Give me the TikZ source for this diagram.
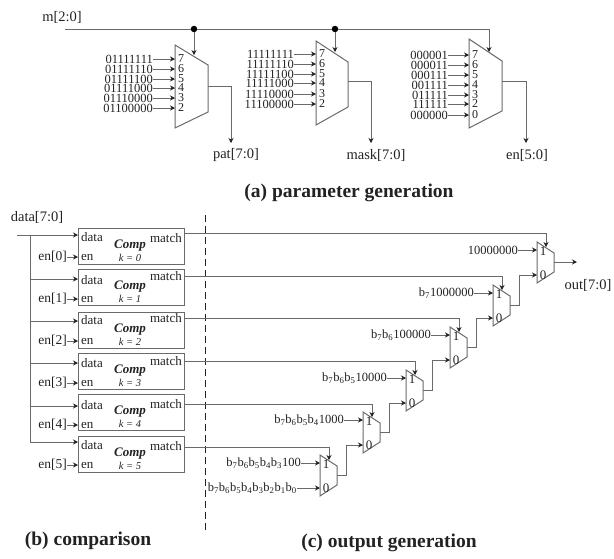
\documentclass[tikz,border=0pt]{standalone}
\usepackage{fontspec}
\setmainfont{Liberation Serif}
\usetikzlibrary{positioning,arrows.meta,calc}
\definecolor{ink1}{HTML}{222222}
\definecolor{ink2}{HTML}{6A6A6A}
\newcommand{\bb}[1]{b\textsubscript{#1}}
\newcommand{\fs}[1]{\fontsize{#1}{#1}\selectfont}
\begin{document}
\begin{tikzpicture}[
  x=1pt, y=-1pt,
  >={Stealth[length=5pt,width=5pt,color=ink1]},
  wire/.style={draw=ink2, line width=0.8pt},
  ar/.style={->, draw=ink2, line width=0.8pt},
  muxbody/.style={draw=ink2, line width=1pt},
  compbox/.style={draw=ink2, line width=1.1pt, minimum width=106pt, minimum height=36pt,
                  inner sep=0pt, anchor=north west},
  bits/.style={font=\fs{12.5}, text=ink1, inner sep=0pt},
  lab/.style={font=\fs{14.5}, text=ink1, inner sep=0pt},
  tag/.style={font=\fs{13}, text=ink1, inner sep=0pt},
  digit/.style={font=\fs{12}, text=ink1, inner sep=0pt},
  compname/.style={font=\fs{13}\bfseries\itshape, text=ink1, inner sep=0pt},
  kname/.style={font=\fs{10.5}\itshape, text=ink1, inner sep=0pt},
  capt/.style={font=\fs{19.5}\bfseries, text=ink1, inner sep=0pt},
  junction/.style={circle, fill=black, inner sep=0pt, minimum size=6.5pt}
]
\useasboundingbox (0,0) rectangle (614,558);

% ===== (a) parameter generation =====
\node[lab] (mlab) at (62,17) {m[2:0]};
\coordinate (mstart) at (65,29);
\node[junction] (jA) at (194,29) {};
\node[junction] (jB) at (335,29) {};
\coordinate (selA) at (194,55);
\coordinate (selB) at (335,52);
\coordinate (selC) at (489,52);
\draw[wire] (mstart) -- (jA) -- (jB);
\draw[ar] (jA) -- (selA);
\draw[ar] (jB) -- (selB);
\draw[ar] (jB) -| (selC);

\draw[muxbody] (175,45) -- (208,65) -- (208,112) -- (175,128) -- cycle;
\foreach \val/\yy/\dig in {01111111/59/7,01111110/69/6,01111100/79/5,01111000/88/4,01110000/98/3,01100000/108/2} {
  \node[bits, anchor=east] (vA\dig) at (153,\yy) {\val};
  \node[digit] (dA\dig) at (181,\yy) {\dig};
  \coordinate (iA\dig) at (175,\yy);
  \draw[ar] (vA\dig) -- (iA\dig);
}
\draw[muxbody] (316,41) -- (348,62) -- (348,107) -- (316,125) -- cycle;
\foreach \val/\yy/\dig in {11111111/54/7,11111110/64/6,11111100/74/5,11111000/83/4,11110000/94/3,11100000/104/2} {
  \node[bits, anchor=east] (vB\dig) at (294,\yy) {\val};
  \node[digit] (dB\dig) at (322,\yy) {\dig};
  \coordinate (iB\dig) at (316,\yy);
  \draw[ar] (vB\dig) -- (iB\dig);
}
\draw[muxbody] (469,39) -- (502,61) -- (502,111) -- (469,128) -- cycle;
\foreach \val/\yy/\dig in {000001/55/7,000011/65/6,000111/75/5,001111/85/4,011111/95/3,111111/104/2,000000/115/0} {
  \node[bits, anchor=east] (vC\dig) at (448,\yy) {\val};
  \node[digit] (dC\dig) at (475,\yy) {\dig};
  \coordinate (iC\dig) at (469,\yy);
  \draw[ar] (vC\dig) -- (iC\dig);
}
\coordinate (oA) at (208,86);
\coordinate (oB) at (348,81);
\coordinate (oC) at (502,81);
\node[lab] (pat) at (236,155) {pat[7:0]};
\node[lab] (mask) at (376,155) {mask[7:0]};
\node[lab] (enout) at (527,155) {en[5:0]};
\coordinate (tA) at (231,143);
\coordinate (tB) at (371,143);
\coordinate (tC) at (526,143);
\draw[ar] (oA) -| (tA);
\draw[ar] (oB) -| (tB);
\draw[ar] (oC) -| (tC);
\node[capt] (capA) at (349,193) {(a) parameter generation};

% ===== (b) comparison =====
\node[lab] (dlab) at (37,217) {data[7:0]};
\coordinate (dstart) at (17,235);
\coordinate (busT) at (30,235);
\coordinate (busB) at (30,442);
\draw[wire] (busT) -- (busB);
\draw[wire] (dstart) -- (busT);
\foreach \k/\tp/\yd/\yt/\ye/\ym/\ymt in {0/228/235/237/257/233/238,1/269/279/280/299/276/276,2/312/321/320/341/318/318,3/353/363/363/383/361/361,4/394/406/405/425/404/404,5/436/442/445/465/447/446} {
  \node[compbox] (cp\k) at (78,\tp) {};
  \node[tag, anchor=west] (dt\k) at (81,\yt) {data};
  \node[tag, anchor=west] (ei\k) at (81,\ye) {en};
  \node[tag, anchor=east] (mt\k) at (182,\ymt) {match};
  \node[compname] (cn\k) at (130,{\tp+18}) {Comp};
  \node[kname] (kn\k) at (130,{\tp+30}) {k = \k};
  \node[tag, anchor=east, font=\fs{13.5}] (en\k) at (67,\ye) {en[\k]};
  \coordinate (dI\k) at (78,\yd);
  \coordinate (dB\k) at (30,\yd);
  \coordinate (eI\k) at (78,\ye);
  \coordinate (mO\k) at (184,\ym);
  \draw[ar] (dB\k) -- (dI\k);
  \draw[ar] (en\k) -- (eI\k);
}
\node[capt] (capB) at (88,541) {(b) comparison};

% divider
\coordinate (divT) at (205,215);
\coordinate (divB) at (205,530);
\draw[draw=ink1, line width=1pt, dash pattern=on 7pt off 4pt] (divT) -- (divB);

% ===== (c) output generation =====
\foreach \k/\xl/\yt/\txt in {0/537/242/{10000000},1/493/285/{\bb{7}1000000},2/450/327/{\bb{7}\bb{6}100000},3/406/370/{\bb{7}\bb{6}\bb{5}10000},4/363/412/{\bb{7}\bb{6}\bb{5}\bb{4}1000},5/320/455/{\bb{7}\bb{6}\bb{5}\bb{4}\bb{3}100}} {
  \draw[muxbody] (\xl,\yt) -- ({\xl+17},{\yt+11}) -- ({\xl+17},{\yt+30}) -- (\xl,{\yt+41}) -- cycle;
  \node[tag] (one\k) at ({\xl+6},{\yt+9}) {1};
  \node[tag] (zero\k) at ({\xl+6},{\yt+33}) {0};
  \coordinate (sel\k) at ({\xl+9},{\yt+5});
  \coordinate (hi\k) at (\xl,{\yt+8});
  \coordinate (lo\k) at (\xl,{\yt+33});
  \coordinate (ot\k) at ({\xl+17},{\yt+20});
  \node[bits, anchor=east] (vS\k) at ({\xl-19},{\yt+8}) {\txt};
  \draw[ar] (vS\k) -- (hi\k);
  \draw[ar] (mO\k) -| (sel\k);
}
\foreach \k/\p in {1/0,2/1,3/2,4/3,5/4} {
  \draw[ar] (ot\k) -- ++(9,0) |- (lo\p);
}
\node[bits, anchor=east] (vLast) at (297,488) {\bb{7}\bb{6}\bb{5}\bb{4}\bb{3}\bb{2}\bb{1}\bb{0}};
\draw[ar] (vLast) -- (lo5);
\node[lab] (outlab) at (588,285) {out[7:0]};
\coordinate (tOut) at (577,262);
\draw[ar] (ot0) -- (tOut);
\node[capt] (capC) at (389,543) {(c) output generation};
\end{tikzpicture}
\end{document}
